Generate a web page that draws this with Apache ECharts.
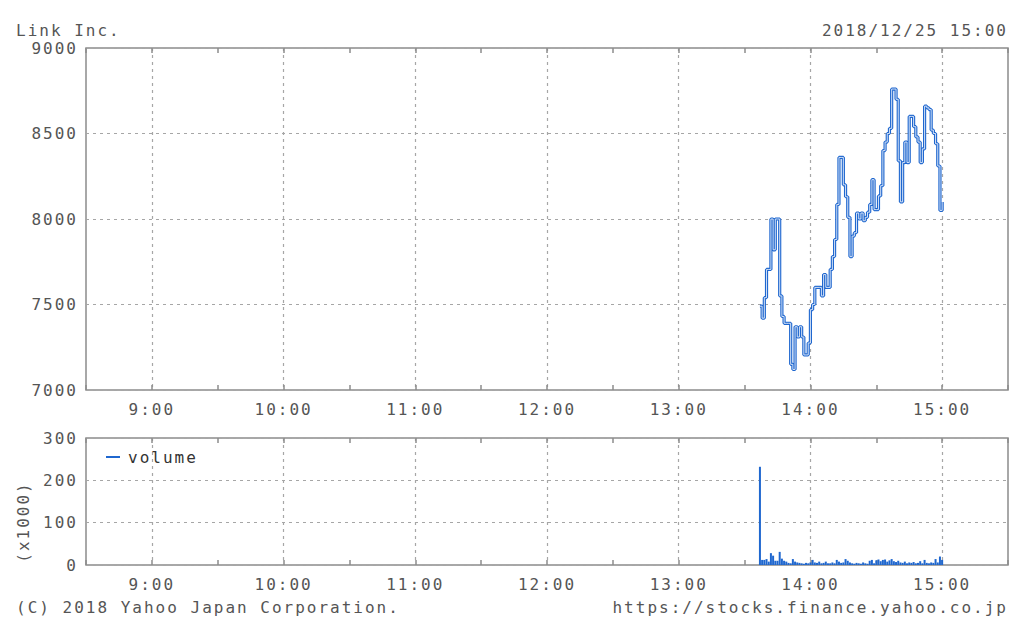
<!DOCTYPE html>
<html><head><meta charset="utf-8">
<script src="https://cdn.jsdelivr.net/npm/echarts@6/dist/echarts.min.js"></script>
<style>
html,body{margin:0;padding:0;background:#fff;}
#c{width:1024px;height:631px;}
#c text{letter-spacing:2px;}
</style></head><body><div id="c"></div>
<script>
const titleText = 'Link Inc.';
const stampText = '2018/12/25 15:00';
const copyrightText = '(C) 2018 Yahoo Japan Corporation.';
const sourceText = 'https://stocks.finance.yahoo.co.jp';
const volumeUnit = '(x1000)';
const seriesName = 'volume';
const firstMinute = '13:37';
const axisStart = '8:30';
const axisEnd = '15:30';
const prices = [
  7490,7420,7540,7705,7705,8000,7820,8000,8000,7550,
  7430,7390,7390,7390,7150,7120,7370,7310,7370,7310,
  7205,7205,7275,7470,7500,7600,7600,7600,7550,7675,
  7600,7600,7705,7780,7880,8085,8360,8360,8200,8130,
  8010,7780,7900,7920,8035,8000,8035,7990,8010,8040,
  8085,8230,8055,8055,8135,8195,8400,8450,8500,8530,
  8760,8760,8700,8340,8100,8330,8450,8330,8600,8600,
  8540,8480,8450,8330,8410,8660,8650,8640,8520,8500,
  8440,8310,8050,8100
];
const volumes = [
  232,12,12,14,8,28,22,10,10,31,
  15,10,8,5,4,14,8,6,5,4,
  3,5,4,6,12,6,5,8,4,5,
  8,4,4,6,4,12,8,5,6,14,
  10,6,4,3,5,4,3,6,4,3,
  10,12,4,11,13,9,12,13,8,11,
  14,9,7,10,6,5,8,4,6,5,
  7,4,5,9,4,12,5,4,6,5,
  14,6,20,12
];
const priceAxis = {min: 7000, max: 9000, step: 500};
const volumeAxis = {min: 0, max: 300, step: 100};

function toMin(s){const p=s.split(':');return (+p[0])*60+(+p[1]);}
function fmt(m){return Math.floor(m/60)+':'+String(m%60).padStart(2,'0');}
const m0 = toMin(axisStart), m1 = toMin(axisEnd), s0 = toMin(firstMinute);
const cats = [];
for (let m = m0; m <= m1; m++) cats.push(fmt(m));
const priceData = prices.map((v,i)=>[fmt(s0+i), v]);
const volumeData = volumes.map((v,i)=>[fmt(s0+i), v]);

const mono = "'DejaVu Sans Mono','Liberation Mono',monospace";
const txt = '#555';
const frame = '#8c8c8c';
const grid = '#a6a6a6';
const blue = '#1f67cf';
const isHalf = (i)=> (m0+i)%30===0;
const isHour = (i)=> (m0+i)%60===0;

function xAx(gi, pos, labels){
  return {
    type:'category', gridIndex:gi, data:cats, boundaryGap:false, position:pos,
    axisLine:{show:false},
    axisTick:{show:true, inside:true, length:5, interval:(i)=>isHalf(i), lineStyle:{color:frame, width:1.5}},
    axisLabel:{show:labels, interval:(i)=>isHour(i), color:txt, fontFamily:mono, fontSize:16, margin:11},
    splitLine:{show:labels, interval:(i)=>isHour(i) && i>0 && i<cats.length-1, lineStyle:{color:grid, type:[3,4], width:1.2}}
  };
}
function yAx(gi, a){
  return {
    type:'value', gridIndex:gi, min:a.min, max:a.max, interval:a.step,
    axisLine:{show:false}, axisTick:{show:false},
    axisLabel:{formatter:(v)=>String(v), color:txt, fontFamily:mono, fontSize:16, margin:8},
    splitLine:{show:true, lineStyle:{color:grid, type:[3,4], width:1.2}}
  };
}
const font16 = "16px 'DejaVu Sans Mono','Liberation Mono',monospace";
function label(text, x, y, align, extra){
  return Object.assign({type:'text', x:x, y:y,
    style:{text:text, align:align, verticalAlign:'middle', fill:txt, font:font16}}, extra||{});
}
const chart = echarts.init(document.getElementById('c'), null, {renderer:'svg'});
chart.setOption({
  animation:false,
  backgroundColor:'#fff',
  grid:[
    {left:86, right:16, top:48, height:342, show:true, borderColor:frame, borderWidth:1.5},
    {left:86, right:16, top:438, height:127, show:true, borderColor:frame, borderWidth:1.5}
  ],
  xAxis:[xAx(0,'bottom',true), xAx(0,'top',false), xAx(1,'bottom',true), xAx(1,'top',false)],
  yAxis:[yAx(0,priceAxis), yAx(1,volumeAxis)],
  legend:{data:[seriesName], left:106, top:449, padding:0, icon:'rect', itemWidth:14, itemHeight:2,
    textStyle:{fontFamily:mono, fontSize:16, color:'#333', padding:[0,0,0,3]}},
  graphic:[
    label(titleText, 16, 30, 'left'),
    label(stampText, 1008, 30, 'right'),
    label(copyrightText, 16, 607, 'left'),
    label(sourceText, 1008, 607, 'right'),
    label(volumeUnit, 23, 522, 'center', {rotation:Math.PI/2})
  ],
  series:[
    {type:'line', xAxisIndex:0, yAxisIndex:0, data:priceData, step:'end', symbol:'none',
      lineStyle:{color:blue, width:3.2}, z:3},
    {type:'line', xAxisIndex:0, yAxisIndex:0, data:priceData, step:'end', symbol:'none',
      lineStyle:{color:'#e6eefa', width:0.9}, z:4, silent:true},
    {type:'bar', name:seriesName, xAxisIndex:2, yAxisIndex:1, data:volumeData, barWidth:2,
      itemStyle:{color:blue}}
  ]
});
</script></body></html>
